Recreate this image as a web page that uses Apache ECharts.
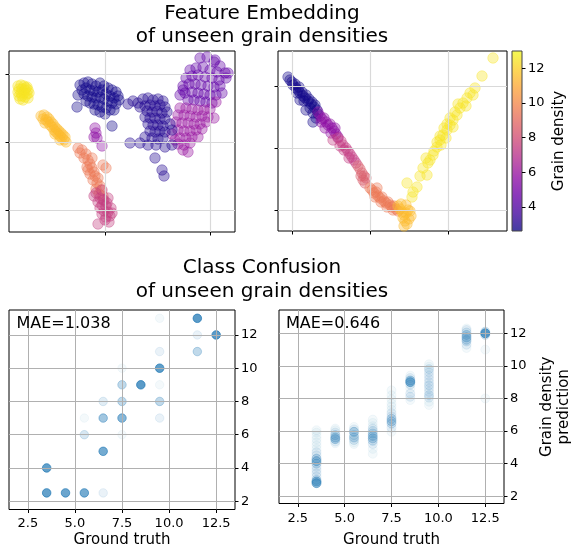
<!DOCTYPE html>
<html><head><meta charset="utf-8">
<script src="https://cdn.jsdelivr.net/npm/echarts@6/dist/echarts.min.js"></script>
<style>html,body{margin:0;padding:0;background:#fff}#c{width:576px;height:550px}</style>
</head><body><div id="c"></div>
<script>
// ---------- DATA ----------
// Tick values
const densityTicks = [4, 6, 8, 10, 12];
const gtTicks = [2.5, 5, 7.5, 10, 12.5];
const predTicks = [2, 4, 6, 8, 10, 12];
const embLeftXTicks = [0, 105];
const embLeftYTicks = [-68, 0, 68];
const embRightXTicks = [-78, 0, 78];
const embRightYTicks = [-62, 0, 62];
const densityRange = [2.6, 13];

// Feature embedding (left panel), clusters by grain density, [x, y]
const embL_d125 = [[-87,56],[-84,57],[-81,56],[-78,55],[-86,53],[-83,53],[-80,52],[-77,52],[-87,50],[-84,49],[-81,49],[-78,48],[-86,46],[-83,46],[-80,45],[-77,44],[-82,42],[-85,43],[-79,54],[-76,49]];
const embL_d115 = [[-64,26],[-61,27],[-58,25],[-62,23],[-59,22],[-56,23],[-57,20],[-54,20],[-55,17],[-52,18],[-53,15],[-50,15],[-51,12],[-48,13],[-49,10],[-46,11],[-47,8],[-44,9],[-45,6],[-42,7],[-43,4],[-40,5],[-41,2],[-39,0],[-45,2],[-60,19],[-50,8]];
const embL_d95 = [[-27,-6],[-23,-8],[-19,-12],[-21,-16],[-17,-18],[-15,-22],[-18,-25],[-13,-26],[-11,-30],[-15,-32],[-10,-34],[-7,-36],[-12,-38],[-8,-41],[-5,-44],[-9,-47],[-4,-48],[-6,-52],[-2,-54],[-13,-16],[-17,-28],[-25,-11],[-2,-23],[1,-26]];
const embL_d75 = [[-9,-51],[-5,-56],[-1,-58],[-7,-60],[-3,-63],[1,-64],[-5,-66],[-1,-69],[3,-70],[-3,-72],[1,-75],[5,-74],[0,-78],[4,-80],[-2,-58],[2,-61],[6,-66],[3,-56],[-3,-48],[-11,-54],[7,-71],[-7,-82]];
const embL_d27 = [[-25,57],[-21,59],[-17,60],[-13,58],[-9,56],[-5,59],[-1,56],[3,54],[7,52],[11,50],[-23,52],[-19,54],[-15,52],[-11,51],[-7,50],[-3,52],[1,48],[5,46],[9,44],[13,46],[-27,47],[-21,48],[-17,46],[-13,45],[-9,44],[-5,45],[-1,43],[3,41],[7,39],[11,38],[-19,41],[-15,39],[-11,38],[-7,37],[-3,35],[1,34],[5,32],[9,32],[-10,32],[-5,30],[0,28],[14,42],[7,16],[-28,35]];
const embL_d57 = [[-10,14],[-9,9],[-11,5],[-8,4],[-3,-4]];
const embL_d30 = [[28,41],[33,39],[38,43],[43,44],[48,42],[53,43],[58,41],[35,35],[40,36],[45,37],[50,36],[55,37],[60,35],[42,31],[47,30],[52,31],[57,29],[62,30],[40,25],[45,24],[50,24],[55,23],[60,23],[43,18],[48,17],[53,17],[58,16],[65,18],[45,11],[50,10],[55,11],[60,10],[67,12],[40,5],[47,4],[53,3],[58,4],[35,-1],[43,-3],[51,-3],[60,-5],[50,-16],[57,-28],[59,-34],[25,-1],[67,-3],[23,38]];
const embL_d44 = [[95,84],[102,85],[109,80],[115,76],[120,69],[85,72],[91,74],[98,75],[105,72],[112,70],[81,64],[87,66],[93,67],[100,65],[107,64],[114,62],[121,64],[78,56],[84,58],[90,58],[96,57],[103,56],[109,55],[115,56],[80,49],[87,50],[93,49],[99,48],[105,47],[111,47],[83,42],[89,42],[95,41],[101,40],[107,39],[75,47],[117,49],[110,82],[78,52],[123,69]];
const embL_d60 = [[75,34],[81,34],[87,33],[93,32],[99,32],[105,33],[73,27],[79,27],[85,26],[91,25],[97,26],[103,25],[71,20],[77,19],[83,19],[89,18],[95,18],[101,20],[73,12],[79,11],[85,11],[91,12],[97,13],[75,4],[81,4],[87,5],[93,5],[73,-2],[79,-3],[85,-1],[78,-8],[83,-10],[67,8],[70,2],[109,24],[111,40]];

// Feature embedding (right panel)
const embR_d27 = [[-82,71],[-80,68],[-78,66],[-77,63],[-75,64],[-74,60],[-72,58],[-71,61],[-70,55],[-68,56],[-67,52],[-65,50],[-64,53],[-62,47],[-61,49],[-59,44],[-58,46],[-56,41],[-55,43],[-53,38],[-60,40],[-73,55],[-66,47],[-57,35],[-52,34],[-57,26],[-64,38],[-70,48],[-54,30]];
const embR_d57 = [[-52,36],[-50,32],[-48,29],[-46,30],[-44,26],[-42,23],[-40,24],[-38,20],[-36,17],[-34,14],[-45,20],[-39,15],[-32,11],[-35,20],[-49,26]];
const embR_d74 = [[-32,10],[-29,7],[-27,3],[-24,0],[-22,-3],[-20,-6],[-18,-9],[-26,-2],[-21,-10],[-16,-12],[-14,-15],[-30,2],[-37,8]];
const embR_d85 = [[-12,-18],[-10,-21],[-8,-25],[-6,-28],[-4,-30],[-9,-28],[-7,-32],[-5,-35]];
const embR_d95 = [[2,-42],[4,-45],[6,-44],[8,-48],[10,-50],[12,-49],[14,-53],[16,-55],[18,-54],[20,-57],[22,-59],[24,-58],[26,-61],[28,-63],[5,-49],[11,-54],[17,-59],[23,-62],[0,-40],[7,-40]];
const embR_d115 = [[28,-58],[30,-61],[32,-64],[34,-67],[36,-65],[33,-70],[35,-73],[37,-76],[39,-71],[41,-68],[38,-62],[36,-57],[31,-56],[34,-78],[40,-63]];
const embR_d125 = [[37,-35],[43,-44],[47,-39],[42,-49],[53,-20],[57,-27],[50,-28],[60,-12],[63,-7],[58,-15],[67,1],[64,-3],[70,8],[67,6],[73,13],[70,12],[76,10],[77,18],[74,20],[80,23],[77,24],[83,21],[83,28],[80,30],[87,33],[85,36],[90,40],[88,44],[93,45],[96,42],[97,50],[100,55],[103,53],[105,60],[112,72],[123,90],[56,-10],[71,3]];

// Class confusion (left): ground truth, prediction, sample count
const cmL_truth = [3.5,4.5,5.5,6.5, 3.5,6.5, 5.5,7.5, 5.5,6.5,7.5,9.5, 6.5,7.5,9.5, 7.5,8.5,9.5, 7.5,9.5, 9.5,11.5, 11.5,12.5, 9.5,11.5];
const cmL_pred  = [2.5,2.5,2.5,2.5, 4,5, 6,6, 7,7,7,7, 8,8,8, 9,9,9, 10,10, 11,11, 12,12, 13,13];
const cmL_count = [32,28,24,2, 34,24, 4,1, 1,12,18,2, 3,7,7, 7,40,1, 1,36, 2,7, 2,40, 1,40];

// Class confusion (right): per ground truth, [prediction, count]
const cmR_3_5 = [[2.8,16],[2.9,10],[3.0,4],[3.2,2],[3.4,2],[3.6,2],[3.8,2],[4.0,5],[4.15,10],[4.3,6],[4.5,2],[4.7,2],[4.9,1],[5.1,1],[5.3,1],[5.5,1],[5.7,1],[5.9,1],[6.05,1]];
const cmR_4_5 = [[5.25,1],[5.35,2],[5.5,7],[5.6,6],[5.75,4],[5.9,2],[6.05,1],[6.15,1]];
const cmR_5_5 = [[5.2,1],[5.3,1],[5.45,3],[5.6,5],[5.75,3],[5.95,7],[6.1,2],[6.25,1]];
const cmR_6_5 = [[4.6,1],[4.9,1],[5.2,2],[5.4,4],[5.55,6],[5.7,6],[5.85,4],[6.0,3],[6.15,2],[6.3,1],[6.5,1],[6.7,1]];
const cmR_7_5 = [[5.95,1],[6.2,2],[6.45,4],[6.6,6],[6.75,5],[6.9,2],[7.1,2],[7.3,1],[7.5,1],[7.7,1],[7.95,1],[8.2,1],[8.5,1]];
const cmR_8_5 = [[7.9,1],[8.1,2],[8.3,2],[8.6,1],[8.85,3],[9.0,14],[9.1,8],[9.25,2],[9.4,1]];
const cmR_9_5 = [[7.6,1],[7.8,1],[8.05,2],[8.2,3],[8.4,2],[8.6,2],[8.8,3],[9.0,2],[9.2,2],[9.4,2],[9.6,2],[9.8,3],[9.95,1],[10.1,1]];
const cmR_11_5 = [[11.1,1],[11.3,2],[11.5,3],[11.6,5],[11.75,7],[11.9,6],[12.05,3],[12.2,2],[12.3,1]];
const cmR_12_5 = [[8.0,1],[11.0,1],[11.9,4],[12.0,26],[12.1,4]];

const maeLeft = 'MAE=1.038';
const maeRight = 'MAE=0.646';

// ---------- BUILD ----------
const FONT = 'DejaVu Sans';
const PLASMA = ['#0d0887','#41049d','#6a00a8','#8f0da4','#b12a90','#cc4778','#e16462','#f2844b','#fca636','#fcce25','#f0f921'];
function hex2rgb(h){return [parseInt(h.slice(1,3),16),parseInt(h.slice(3,5),16),parseInt(h.slice(5,7),16)];}
function plasmaRGB(t){
  t = Math.max(0, Math.min(1, t));
  const s = t*10, i = Math.min(9, Math.floor(s)), f = s - i;
  const a = hex2rgb(PLASMA[i]), b = hex2rgb(PLASMA[i+1]);
  return [0,1,2].map(k => Math.round(a[k] + (b[k]-a[k])*f));
}
function densColor(d, alpha){
  const c = plasmaRGB((d - densityRange[0])/(densityRange[1]-densityRange[0]));
  return 'rgba(' + c.join(',') + ',' + alpha + ')';
}
const EMB_ALPHA = 0.46;
function embData(groups){
  const out = [];
  groups.forEach(([d, pts]) => pts.forEach(p => {
    const col = densColor(d, EMB_ALPHA);
    out.push({value:[p[0], p[1], d], itemStyle:{color:col, borderColor:col, borderWidth:1}});
  }));
  return out;
}
const embLeft = [[4.4, embL_d44],[6.0, embL_d60],[3.0, embL_d30],[2.7, embL_d27],[5.7, embL_d57],[12.5, embL_d125],[11.5, embL_d115],[9.5, embL_d95],[7.5, embL_d75]];
const embRight = [[2.7, embR_d27],[5.7, embR_d57],[7.4, embR_d74],[8.5, embR_d85],[9.5, embR_d95],[12.5, embR_d125],[11.5, embR_d115]];

const SAMPLE_ALPHA = 0.06;
function blue(n){
  const a = 1 - Math.pow(1 - SAMPLE_ALPHA, n);
  return 'rgba(31,119,180,' + a.toFixed(3) + ')';
}
const cmLeftData = cmL_truth.map((x, i) => {
  const c = blue(cmL_count[i]);
  return {value:[x, cmL_pred[i]], itemStyle:{color:c, borderColor:c, borderWidth:1}};
});
const cmRightCols = [[3.5, cmR_3_5],[4.5, cmR_4_5],[5.5, cmR_5_5],[6.5, cmR_6_5],[7.5, cmR_7_5],[8.5, cmR_8_5],[9.5, cmR_9_5],[11.5, cmR_11_5],[12.5, cmR_12_5]];
const cmRightData = [];
cmRightCols.forEach(([x, col]) => col.forEach(([y, n]) => {
  const c = blue(n);
  cmRightData.push({value:[x, y], itemStyle:{color:c, borderColor:c, borderWidth:1}});
}));

function ax(gi, min, max, ticks, o){
  o = o || {};
  const a = {
    type:'value', gridIndex:gi, min:min, max:max, z:3,
    axisLine:{show:false, onZero:false},
    axisTick:{show:true, length:3.5, inside:false, customValues:ticks, lineStyle:{color:'#000', width:1}},
    axisLabel:{show:!!o.labels, customValues:ticks, margin:o.margin || 6, fontSize:13, color:'#000', fontFamily:FONT},
    splitLine:{show:o.split !== false, lineStyle:{color:o.gridColor || '#b0b0b0', width:o.gridWidth || 1}}
  };
  if (o.fmt) a.axisLabel.formatter = o.fmt;
  if (o.position) a.position = o.position;
  if (o.name){
    a.name = o.name; a.nameLocation = 'middle'; a.nameGap = o.nameGap;
    a.nameTextStyle = {fontSize:15, color:'#000', fontFamily:FONT, lineHeight:17.5};
    if (o.nameRotate !== undefined) a.nameRotate = o.nameRotate;
  }
  if (o.show === false) a.show = false;
  return a;
}
const TOPGRID = {gridColor:'#d9d9d9', gridWidth:1.2};
const fmt1 = v => Number(v).toFixed(1);

const cbGradient = new echarts.graphic.LinearGradient(0, 1, 0, 0,
  PLASMA.map((c, i) => { const r = hex2rgb(c); return {offset:i/10, color:'rgba(' + r.join(',') + ',0.78)'}; }));

const gridBase = {show:true, borderColor:'#000', borderWidth:1, containLabel:false, backgroundColor:'transparent'};
const option = {
  animation:false,
  backgroundColor:'#fff',
  textStyle:{fontFamily:FONT},
  grid:[
    Object.assign({}, gridBase, {left:9, top:51, width:226, height:181}),
    Object.assign({}, gridBase, {left:278, top:51, width:229, height:180}),
    Object.assign({}, gridBase, {left:512, top:51, width:10, height:180, borderColor:'#444', backgroundColor:cbGradient}),
    Object.assign({}, gridBase, {left:9, top:310, width:226, height:200}),
    Object.assign({}, gridBase, {left:279, top:310, width:225, height:193.5})
  ],
  xAxis:[
    ax(0, -96, 130, embLeftXTicks, TOPGRID),
    ax(1, -92, 137, embRightXTicks, TOPGRID),
    ax(2, 0, 1, [], {show:false, split:false}),
    ax(3, 1.5, 13.5, gtTicks, {labels:true, fmt:fmt1, margin:8, name:'Ground truth', nameGap:22}),
    ax(4, 1.5, 13.5, gtTicks, {labels:true, fmt:fmt1, margin:9, name:'Ground truth', nameGap:28})
  ],
  yAxis:[
    ax(0, -90, 91, embLeftYTicks, Object.assign({position:'left'}, TOPGRID)),
    ax(1, -83, 97, embRightYTicks, Object.assign({position:'left'}, TOPGRID)),
    ax(2, densityRange[0], densityRange[1], densityTicks, {labels:true, position:'right', split:false, name:'Grain density', nameGap:28, nameRotate:90}),
    ax(3, 1.5, 13.5, predTicks, {labels:true, position:'right'}),
    ax(4, 1.55, 13.43, predTicks, {labels:true, position:'right', name:'Grain density\nprediction', nameGap:34, nameRotate:90})
  ],
  series:[
    {type:'scatter', xAxisIndex:0, yAxisIndex:0, symbolSize:10.5, clip:true, data:embData(embLeft)},
    {type:'scatter', xAxisIndex:1, yAxisIndex:1, symbolSize:10.5, clip:true, data:embData(embRight)},
    {type:'scatter', xAxisIndex:3, yAxisIndex:3, symbolSize:8.5, clip:true, data:cmLeftData},
    {type:'scatter', xAxisIndex:4, yAxisIndex:4, symbolSize:9, clip:true, data:cmRightData}
  ],
  graphic:[
    {type:'text', z:10, style:{text:'Feature Embedding\nof unseen grain densities', x:262, y:2, align:'center', verticalAlign:'top', fontSize:20, fontFamily:FONT, lineHeight:23.5, fill:'#000'}},
    {type:'text', z:10, style:{text:'Class Confusion\nof unseen grain densities', x:262, y:256.5, align:'center', verticalAlign:'top', fontSize:20, fontFamily:FONT, lineHeight:23.5, fill:'#000'}},
    {type:'text', z:10, style:{text:maeLeft, x:16.5, y:323.5, align:'left', verticalAlign:'middle', fontSize:16, fontFamily:FONT, fill:'#000'}},
    {type:'text', z:10, style:{text:maeRight, x:286, y:323.5, align:'left', verticalAlign:'middle', fontSize:16, fontFamily:FONT, fill:'#000'}}
  ]
};
const chart = echarts.init(document.getElementById('c'), null, {renderer:'canvas'});
chart.setOption(option);
</script>
</body></html>
